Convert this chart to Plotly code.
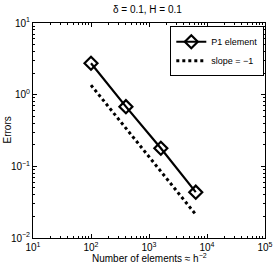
import plotly.graph_objects as go

n_elements = [100, 400, 1600, 6400]
errors_p1 = [2.74, 0.68, 0.179, 0.0436]
slope_x = [100, 6400]
slope_y = [1.36, 0.02125]

x_tick_vals = [10, 100, 1000, 10000, 100000]
x_tick_text = ["10<sup>1</sup>", "10<sup>2</sup>", "10<sup>3</sup>", "10<sup>4</sup>", "10<sup>5</sup>"]
y_tick_vals = [0.01, 0.1, 1, 10]
y_tick_text = ["10<sup>\u22122</sup>", "10<sup>\u22121</sup>", "10<sup>0</sup>", "10<sup>1</sup>"]

FONT = "Liberation Sans, Arial, sans-serif"

def minor_vals(lo, hi):
    vals = []
    for e in range(lo, hi):
        for m in range(2, 10):
            vals.append(m * 10 ** e)
    return vals

fig = go.Figure()
fig.add_trace(go.Scatter(
    x=n_elements, y=errors_p1, mode="lines+markers", name="P1 element",
    line=dict(color="black", width=2.2),
    marker=dict(symbol="diamond-open", size=10, color="black", line=dict(width=2.2, color="black")),
))
fig.add_trace(go.Scatter(
    x=slope_x, y=slope_y, mode="lines", name="slope = \u22121",
    line=dict(color="black", width=3, dash="dot"),
))

axis_common = dict(
    type="log", showgrid=False, zeroline=False, automargin=False,
    showline=True, linecolor="black", linewidth=1, mirror="allticks",
    ticks="inside", ticklen=4, tickcolor="black",
    tickfont=dict(family=FONT, size=10, color="black"),
)

fig.update_layout(
    width=273, height=273,
    margin=dict(l=33, r=8, t=23, b=35),
    paper_bgcolor="white", plot_bgcolor="white",
    font=dict(family=FONT, size=10, color="black"),
    title=dict(text="\u03b4 = 0.1, H = 0.1", x=0.54, xanchor="center", y=0.965, yanchor="middle",
               font=dict(size=10, color="black")),
    xaxis=dict(axis_common, range=[1, 5], tickmode="array", tickvals=x_tick_vals, ticktext=x_tick_text,
               minor=dict(ticks="inside", ticklen=2, tickcolor="black", showgrid=False,
                          tickvals=minor_vals(1, 5))),
    yaxis=dict(axis_common, range=[-2, 1], tickmode="array", tickvals=y_tick_vals, ticktext=y_tick_text,
               minor=dict(ticks="inside", ticklen=2, tickcolor="black", showgrid=False,
                          tickvals=minor_vals(-2, 1))),
    annotations=[
        dict(text="Number of elements \u2248 h<sup>\u22122</sup>", xref="paper", yref="paper",
             x=0.5, y=-0.095, xanchor="center", yanchor="middle", showarrow=False,
             font=dict(size=10, color="black")),
        dict(text="Errors", xref="paper", yref="paper", x=-0.112, y=0.5, textangle=-90,
             xanchor="center", yanchor="middle", showarrow=False,
             font=dict(size=10, color="black")),
    ],
    legend=dict(x=0.997, y=0.985, xanchor="right", yanchor="top",
                bgcolor="white", bordercolor="black", borderwidth=1,
                font=dict(size=9), tracegroupgap=0, itemwidth=30),
    showlegend=True,
)

fig.write_html("out.html", config={"displayModeBar": False},
               post_script="document.body.style.margin='0';document.body.style.padding='0';")
